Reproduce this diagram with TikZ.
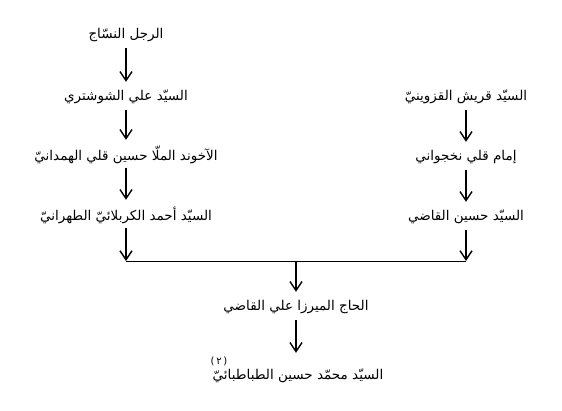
\documentclass[tikz,border=0pt]{standalone}
\usepackage{fontspec}
\usetikzlibrary{arrows.meta}
\TeXXeTstate=1
\newfontfamily\arabicfont[Script=Arabic]{DejaVu Sans}
\tikzset{
  person/.style={font=\arabicfont\fontsize{13.5}{16}\selectfont, inner sep=0pt, minimum height=26pt},
  arr/.style={line width=1.4pt, -{Straight Barb[length=9pt,width=12pt,line width=1.4pt]}},
  bar/.style={line width=0.9pt}
}
\begin{document}
\begin{tikzpicture}[x=1pt,y=-1pt]
\useasboundingbox (0,0) rectangle (562,410);
% left column
\node[person] (l1) at (126,35) {\beginR الرجل النسّاج\endR};
\node[person] (l2) at (126,97) {\beginR السيّد علي الشوشتري\endR};
\node[person] (l3) at (126,155) {\beginR الآخوند الملّا حسين قلي الهمدانيّ\endR};
\node[person] (l4) at (126,215) {\beginR السيّد أحمد الكربلائيّ الطهرانيّ\endR};
% right column
\node[person] (r1) at (466,97) {\beginR السيّد قريش القزوينيّ\endR};
\node[person] (r2) at (466,157) {\beginR إمام قلي نخجواني\endR};
\node[person] (r3) at (466,217) {\beginR السيّد حسين القاضي\endR};
% bottom
\node[person] (m1) at (296,307) {\beginR الحاج الميرزا علي القاضي\endR};
\node[person] (m2) at (298,376) {\beginR السيّد محمّد حسين الطباطبائيّ\endR};
\node[font=\arabicfont\fontsize{10}{12}\selectfont, inner sep=0pt] (fn) at (219,361) {\beginR(\,٢\,)\endR};
% junction coordinates
\coordinate (jl) at (126,261);
\coordinate (jr) at (466,261);
\coordinate (jm) at (296,261);
% arrows
\draw[arr, shorten >=2pt] (l1.south) -- (l2.north);
\draw[arr, shorten >=2pt] (l2.south) -- (l3.north);
\draw[arr, shorten >=2pt] (l3.south) -- (l4.north);
\draw[arr] (l4.south) -- (jl);
\draw[arr, shorten >=2pt] (r1.south) -- (r2.north);
\draw[arr, shorten >=2pt] (r2.south) -- (r3.north);
\draw[arr] (r3.south) -- (jr);
\draw[bar] (jl) -- (jr);
\draw[arr, shorten >=2pt] (jm) -- (m1.north);
\draw[arr] (m1.south) -- ([xshift=-2pt,yshift=10pt]m2.north);
\end{tikzpicture}
\end{document}
